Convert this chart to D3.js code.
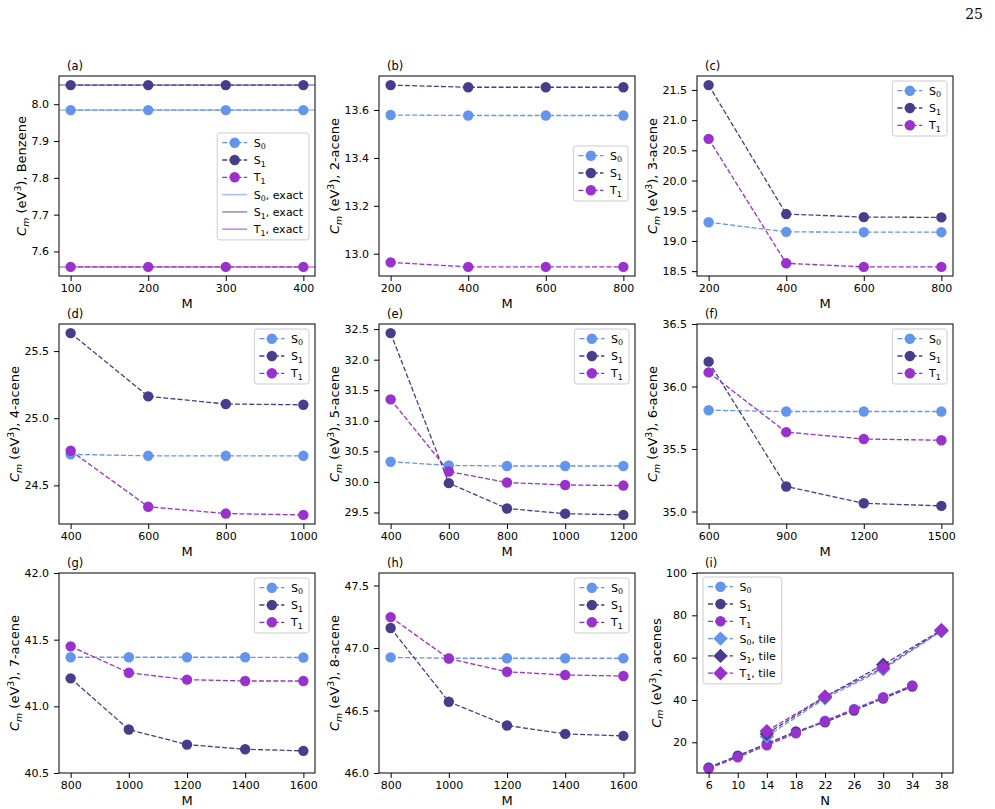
<!DOCTYPE html>
<html>
<head>
<meta charset="utf-8">
<script src="https://cdn.jsdelivr.net/npm/d3@7"></script>
<style>
  body { margin: 0; background: #fff; }
  svg { display: block; font-family: 'DejaVu Sans', sans-serif; }
  text { white-space: pre; }
</style>
</head>
<body>
<div class="fig"></div>
<script>

// ---- data ----

// (a) benzene
const M_a = [100, 200, 300, 400];
const S0_a = [7.984, 7.984, 7.984, 7.984];
const S1_a = [8.052, 8.052, 8.052, 8.052];
const T1_a = [7.558, 7.558, 7.558, 7.558];
const exact_a = [7.984, 8.052, 7.558];   // S0, S1, T1 exact

// (b) 2-acene
const M_b = [200, 400, 600, 800];
const S0_b = [13.579, 13.577, 13.577, 13.577];
const S1_b = [13.704, 13.695, 13.695, 13.695];
const T1_b = [12.964, 12.945, 12.945, 12.945];

// (c) 3-acene
const M_c = [200, 400, 600, 800];
const S0_c = [19.31, 19.15, 19.145, 19.145];
const S1_c = [21.58, 19.445, 19.395, 19.39];
const T1_c = [20.69, 18.63, 18.57, 18.57];

// (d) 4-acene
const M_d = [400, 600, 800, 1000];
const S0_d = [24.731, 24.72, 24.72, 24.72];
const S1_d = [25.634, 25.163, 25.106, 25.10];
const T1_d = [24.758, 24.341, 24.29, 24.28];

// (e) 5-acene
const M_e = [400, 600, 800, 1000, 1200];
const S0_e = [30.33, 30.27, 30.26, 30.26, 30.26];
const S1_e = [32.435, 29.98, 29.565, 29.48, 29.46];
const T1_e = [31.35, 30.17, 29.99, 29.95, 29.94];

// (f) 6-acene
const M_f = [600, 900, 1200, 1500];
const S0_f = [35.81, 35.80, 35.80, 35.80];
const S1_f = [36.199, 35.20, 35.066, 35.045];
const T1_f = [36.113, 35.635, 35.58, 35.57];

// (g) 7-acene
const M_g = [800, 1000, 1200, 1400, 1600];
const S0_g = [41.368, 41.368, 41.368, 41.368, 41.366];
const S1_g = [41.21, 40.826, 40.713, 40.678, 40.666];
const T1_g = [41.45, 41.252, 41.20, 41.19, 41.19];

// (h) 8-acene
const M_h = [800, 1000, 1200, 1400, 1600];
const S0_h = [46.925, 46.918, 46.918, 46.918, 46.918];
const S1_h = [47.16, 46.57, 46.38, 46.313, 46.297];
const T1_h = [47.247, 46.915, 46.81, 46.784, 46.776];

// (i) all acenes vs N
const N_i = [6, 10, 14, 18, 22, 26, 30, 34];
const S0_i = [7.98, 13.58, 19.15, 24.72, 30.26, 35.80, 41.37, 46.92];
const S1_i = [8.05, 13.70, 19.39, 25.10, 29.46, 35.05, 40.67, 46.30];
const T1_i = [7.56, 12.95, 18.57, 24.28, 29.94, 35.57, 41.19, 46.78];
const Ntile_i = [14, 22, 30, 38];
const S0tile_i = [22.8, 40.8, 54.5, 72.5];
const S1tile_i = [24.0, 41.5, 56.7, 73.0];
const T1tile_i = [25.3, 41.6, 55.2, 72.9];

// tick labels
const xt_a = [100, 200, 300, 400];
const yt_a = [7.6, 7.7, 7.8, 7.9, 8.0];
const xt_b = [200, 400, 600, 800];
const yt_b = [13.0, 13.2, 13.4, 13.6];
const xt_c = [200, 400, 600, 800];
const yt_c = [18.5, 19.0, 19.5, 20.0, 20.5, 21.0, 21.5];
const xt_d = [400, 600, 800, 1000];
const yt_d = [24.5, 25.0, 25.5];
const xt_e = [400, 600, 800, 1000, 1200];
const yt_e = [29.5, 30.0, 30.5, 31.0, 31.5, 32.0, 32.5];
const xt_f = [600, 900, 1200, 1500];
const yt_f = [35.0, 35.5, 36.0, 36.5];
const xt_g = [800, 1000, 1200, 1400, 1600];
const yt_g = [40.5, 41.0, 41.5, 42.0];
const xt_h = [800, 1000, 1200, 1400, 1600];
const yt_h = [46.0, 46.5, 47.0, 47.5];
const xt_i = [6, 10, 14, 18, 22, 26, 30, 34, 38];
const yt_i = [20, 40, 60, 80, 100];

// fixed y limits (others are autoscaled with 5% margin)
const ylim_f = [34.9, 36.5];
const ylim_g = [40.5, 42.0];
const ylim_h = [46.0, 47.6];
const ylim_i = [5.5, 100];


// ---- layout ----
const W = 995, H = 809;
const colLeft = [59, 379, 697];
const rowTop = [76, 324, 573];
const pw = 256, ph = 200;

const colors = { S0: '#6495ED', S1: '#483D8B', T1: '#9932CC' };
const states = ['S0', 'S1', 'T1'];
const dash = '5,2.2';
const tickFont = 11, labelFont = 13, legendFont = 11;

const panels = [
   { tag: '(a)', col: 0, row: 0, name: 'Benzene', xlab: 'M', x: M_a, y: [S0_a, S1_a, T1_a], xt: xt_a, yt: yt_a, fmt: '.1f', ylim: null, exact: exact_a, legend: { corner: 'tr', dx: 6, dy: 57 } },
   { tag: '(b)', col: 1, row: 0, name: '2-acene', xlab: 'M', x: M_b, y: [S0_b, S1_b, T1_b], xt: xt_b, yt: yt_b, fmt: '.1f', ylim: null, legend: { corner: 'tr', dx: 7, dy: 70 } },
   { tag: '(c)', col: 2, row: 0, name: '3-acene', xlab: 'M', x: M_c, y: [S0_c, S1_c, T1_c], xt: xt_c, yt: yt_c, fmt: '.1f', ylim: null, legend: { corner: 'tr', dx: 6, dy: 5 } },
   { tag: '(d)', col: 0, row: 1, name: '4-acene', xlab: 'M', x: M_d, y: [S0_d, S1_d, T1_d], xt: xt_d, yt: yt_d, fmt: '.1f', ylim: null, legend: { corner: 'tr', dx: 6, dy: 5 } },
   { tag: '(e)', col: 1, row: 1, name: '5-acene', xlab: 'M', x: M_e, y: [S0_e, S1_e, T1_e], xt: xt_e, yt: yt_e, fmt: '.1f', ylim: null, legend: { corner: 'tr', dx: 6, dy: 5 } },
   { tag: '(f)', col: 2, row: 1, name: '6-acene', xlab: 'M', x: M_f, y: [S0_f, S1_f, T1_f], xt: xt_f, yt: yt_f, fmt: '.1f', ylim: ylim_f, legend: { corner: 'tr', dx: 6, dy: 5 } },
   { tag: '(g)', col: 0, row: 2, name: '7-acene', xlab: 'M', x: M_g, y: [S0_g, S1_g, T1_g], xt: xt_g, yt: yt_g, fmt: '.1f', ylim: ylim_g, legend: { corner: 'tr', dx: 6, dy: 5 } },
   { tag: '(h)', col: 1, row: 2, name: '8-acene', xlab: 'M', x: M_h, y: [S0_h, S1_h, T1_h], xt: xt_h, yt: yt_h, fmt: '.1f', ylim: ylim_h, legend: { corner: 'tr', dx: 6, dy: 5 } },
   { tag: '(i)', col: 2, row: 2, name: 'acenes', xlab: 'N', x: N_i, y: [S0_i, S1_i, T1_i], xt: xt_i, yt: yt_i, fmt: 'd', ylim: ylim_i,
     tiles: { x: Ntile_i, y: [S0tile_i, S1tile_i, T1tile_i] }, legend: { corner: 'tl', dx: 6, dy: 4 } }
];

const svg = d3.select('.fig')
   .append('svg')
   .attr('width', W)
   .attr('height', H)
   .attr('viewBox', `0 0 ${W} ${H}`)
   .style('background-color', '#fff');

// page number
svg.append('text')
   .attr('x', 983).attr('y', 19)
   .attr('text-anchor', 'end')
   .attr('font-family', "'DejaVu Serif', serif")
   .attr('font-size', 14)
   .text('25');

// pad an extent by 5% like matplotlib autoscale
function padded(vals) {
   const [lo, hi] = d3.extent(vals);
   const m = (hi - lo) * 0.05;
   return [lo - m, hi + m];
}

// "S" + subscript "0" + suffix
function stateText(sel, st, suffix) {
   sel.append('tspan').text(st[0]);
   sel.append('tspan').attr('font-size', '72%').attr('dy', 2.6).text(st[1]);
   if (suffix) sel.append('tspan').attr('dy', -2.6).text(suffix);
}

function diamondPath(r) {
   return `M0,${-r}L${r},0L0,${r}L${-r},0Z`;
}

function drawMarker(g, kind, color, cx, cy) {
   if (kind === 'circle') {
      g.append('circle').attr('cx', cx).attr('cy', cy).attr('r', 5.2).attr('fill', color);
   } else if (kind === 'diamond') {
      g.append('path').attr('d', diamondPath(7.2))
         .attr('transform', `translate(${cx},${cy})`).attr('fill', color);
   }
}

function drawLegend(g, entries, pos) {
   const lg = g.append('g');
   const rowH = 17.3;
   const box = lg.append('rect')
      .attr('rx', 2.5)
      .attr('fill', '#fff')
      .attr('fill-opacity', 0.8)
      .attr('stroke', '#cccccc')
      .attr('stroke-width', 1);

   let maxw = 0;
   entries.forEach((e, i) => {
      const row = lg.append('g').attr('transform', `translate(0,${9.7 + i * rowH})`);
      row.append('line')
         .attr('x1', 5).attr('x2', 30).attr('y1', 0).attr('y2', 0)
         .attr('stroke', e.color)
         .attr('stroke-width', e.lw || 1.3)
         .attr('stroke-opacity', e.alpha || 1)
         .attr('stroke-dasharray', e.dashed ? dash : null);
      drawMarker(row, e.marker, e.color, 17.5, 0);
      const t = row.append('text')
         .attr('x', 36.6).attr('y', 4)
         .attr('font-size', legendFont)
         .attr('fill', '#000');
      stateText(t, e.state, e.suffix);
      maxw = Math.max(maxw, t.node().getComputedTextLength());
   });

   const bw = 36.6 + maxw + 6;
   const bh = 9.7 + (entries.length - 1) * rowH + 10.7;
   box.attr('width', bw).attr('height', bh);

   const lx = pos.corner === 'tr' ? pw - pos.dx - bw : pos.dx;
   lg.attr('transform', `translate(${lx},${pos.dy})`);
}


panels.forEach(p => {

   const g = svg.append('g')
      .attr('transform', `translate(${colLeft[p.col]},${rowTop[p.row]})`);

   const allX = p.tiles ? p.x.concat(p.tiles.x) : p.x;
   const allY = [].concat(...p.y, ...(p.tiles ? p.tiles.y : []));

   const xScale = d3.scaleLinear().domain(padded(allX)).range([0, pw]);
   const yScale = d3.scaleLinear().domain(p.ylim || padded(allY)).range([ph, 0]);

   // axes
   const xAxis = d3.axisBottom(xScale)
      .tickValues(p.xt).tickSize(5).tickPadding(3.5)
      .tickFormat(d3.format('d'));
   const yAxis = d3.axisLeft(yScale)
      .tickValues(p.yt).tickSize(5).tickPadding(5)
      .tickFormat(d3.format(p.fmt));

   const gx = g.append('g')
      .attr('transform', `translate(0,${ph})`)
      .call(xAxis);
   const gy = g.append('g').call(yAxis);

   [gx, gy].forEach(a => {
      a.attr('font-family', null).attr('font-size', tickFont);
      a.select('.domain').remove();
      a.selectAll('line').attr('stroke', '#000').attr('stroke-width', 1);
      a.selectAll('text').attr('fill', '#000');
   });

   let maxw = 0;
   gy.selectAll('text').each(function () {
      maxw = Math.max(maxw, this.getComputedTextLength());
   });

   // plotted series
   const line = xs => d3.line()
      .x((d, i) => xScale(xs[i]))
      .y(d => yScale(d));

   p.y.forEach((vals, k) => {
      const c = colors[states[k]];
      g.append('path')
         .attr('d', line(p.x)(vals))
         .attr('fill', 'none')
         .attr('stroke', c)
         .attr('stroke-width', 1.3)
         .attr('stroke-dasharray', dash);
      vals.forEach((v, i) => drawMarker(g, 'circle', c, xScale(p.x[i]), yScale(v)));
   });

   if (p.tiles) {
      p.tiles.y.forEach((vals, k) => {
         const c = colors[states[k]];
         g.append('path')
            .attr('d', line(p.tiles.x)(vals))
            .attr('fill', 'none')
            .attr('stroke', c)
            .attr('stroke-width', 1.3)
            .attr('stroke-dasharray', dash);
         vals.forEach((v, i) => drawMarker(g, 'diamond', c, xScale(p.tiles.x[i]), yScale(v)));
      });
   }

   if (p.exact) {
      p.exact.forEach((v, k) => {
         g.append('line')
            .attr('x1', 0).attr('x2', pw)
            .attr('y1', yScale(v)).attr('y2', yScale(v))
            .attr('stroke', colors[states[k]])
            .attr('stroke-opacity', 0.6)
            .attr('stroke-width', 1.5);
      });
   }

   // frame
   g.append('rect')
      .attr('width', pw).attr('height', ph)
      .attr('fill', 'none')
      .attr('stroke', '#000')
      .attr('stroke-width', 1);

   // panel tag
   g.append('text')
      .attr('x', 8).attr('y', -6)
      .attr('font-size', 11.5)
      .text(p.tag);

   // x label
   g.append('text')
      .attr('x', pw / 2).attr('y', ph + 31.5)
      .attr('text-anchor', 'middle')
      .attr('font-size', labelFont)
      .text(p.xlab);

   // y label: C_m (eV^3), name
   const yl = g.append('text')
      .attr('transform', `translate(${-(10 + maxw + 5.5)},${ph / 2}) rotate(-90)`)
      .attr('text-anchor', 'middle')
      .attr('font-size', labelFont);
   yl.append('tspan').attr('font-style', 'italic').text('C');
   yl.append('tspan').attr('font-style', 'italic').attr('font-size', '72%').attr('dy', 2.8).text('m');
   yl.append('tspan').attr('dy', -2.8).text(' (eV');
   yl.append('tspan').attr('font-size', '72%').attr('dy', -5).text('3');
   yl.append('tspan').attr('dy', 5).text('), ' + p.name);

   // legend
   let entries = states.map(s => ({ state: s, color: colors[s], marker: 'circle', dashed: true }));
   if (p.exact) {
      entries = entries.concat(states.map(s => ({ state: s, suffix: ', exact', color: colors[s], marker: null, alpha: 0.6, lw: 1.5 })));
   }
   if (p.tiles) {
      entries = entries.concat(states.map(s => ({ state: s, suffix: ', tile', color: colors[s], marker: 'diamond', dashed: true })));
   }
   drawLegend(g, entries, p.legend);

});

</script>
</body>
</html>
